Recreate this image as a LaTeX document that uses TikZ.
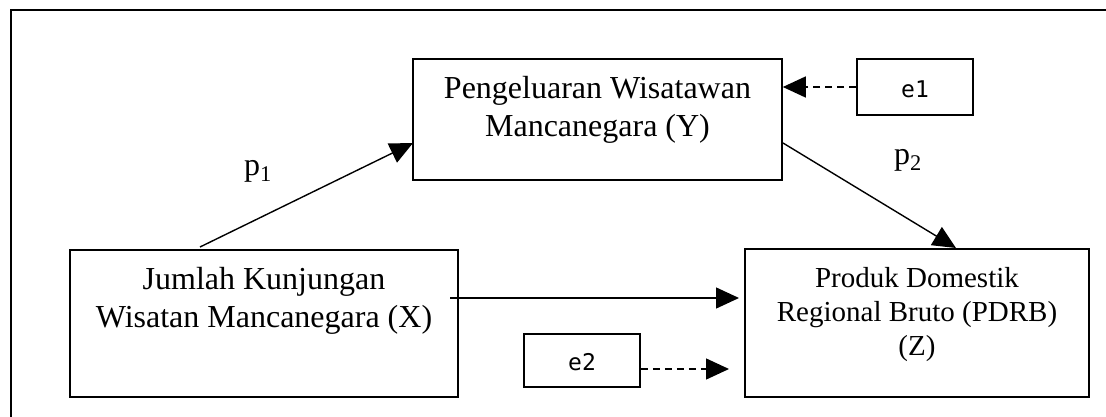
\documentclass[tikz,border=0pt]{standalone}
\usepackage{fontspec}
\setmainfont{Liberation Serif}
\newfontfamily\monof{DejaVu Sans Mono}
\usetikzlibrary{arrows.meta}
\tikzset{
  box/.style={draw, line width=1.6pt, inner sep=0pt, fill=none},
  bigtxt/.style={align=center, inner sep=0pt, font=\fontsize{32}{38}\selectfont},
  midtxt/.style={align=center, inner sep=0pt, font=\fontsize{29}{34}\selectfont},
  etxt/.style={inner sep=0pt, font=\monof\fontsize{23}{26}\selectfont},
  conn/.style={line width=1.4pt, -{Triangle[length=23pt,width=21pt]}},
  dconn/.style={conn, dash pattern=on 7pt off 5pt},
  frameline/.style={line width=1.6pt}
}
\begin{document}
\begin{tikzpicture}[x=1pt,y=-1pt]
\useasboundingbox (0,0) rectangle (1106,417);
\fill[white] (0,0) rectangle (1106,417);
% outer frame (left and top sides visible)
\coordinate (fbl) at (11,417);
\coordinate (ftl) at (11,10);
\coordinate (ftr) at (1106,10);
\draw[frameline] (fbl) -- (ftl) -- (ftr);
% boxes
\node[box, minimum width=369pt, minimum height=121pt] (Y) at (597.5,119.5) {};
\node[box, minimum width=116pt, minimum height=56pt] (e1) at (915,87) {};
\node[box, minimum width=388pt, minimum height=147pt] (X) at (264,323.5) {};
\node[box, minimum width=344pt, minimum height=148pt] (Z) at (917,323) {};
\node[box, minimum width=116pt, minimum height=53pt] (e2) at (582,360.5) {};
% texts
\node[bigtxt] (Yt) at (597.5,110) {Pengeluaran Wisatawan\\Mancanegara (Y)};
\node[bigtxt] (Xt) at (264,301) {Jumlah Kunjungan\\Wisatan Mancanegara (X)};
\node[midtxt] (Zt) at (917,315) {Produk Domestik\\Regional Bruto (PDRB)\\(Z)};
\node[etxt] (e1t) at (915,89) {e1};
\node[etxt] (e2t) at (582,362) {e2};
\node[bigtxt] (p1) at (258,171) {p\textsubscript{1}};
\node[bigtxt] (p2) at (908,160) {p\textsubscript{2}};
% connectors
\coordinate (p1s) at (200,247);
\coordinate (p1e) at (413,143);
\draw[conn] (p1s) -- (p1e);
\coordinate (p2s) at (783,143);
\coordinate (p2e) at (956,248);
\draw[conn] (p2s) -- (p2e);
\coordinate (xzs) at (450,298);
\coordinate (xze) at (739,298);
\draw[conn] (xzs) -- (xze);
\draw[dconn] (e1.west) -- (Y.east |- e1.west);
\coordinate (e2s) at (e2.east |- 0,369);
\coordinate (e2e) at (729,369);
\draw[dconn] (e2s) -- (e2e);
\end{tikzpicture}
\end{document}
